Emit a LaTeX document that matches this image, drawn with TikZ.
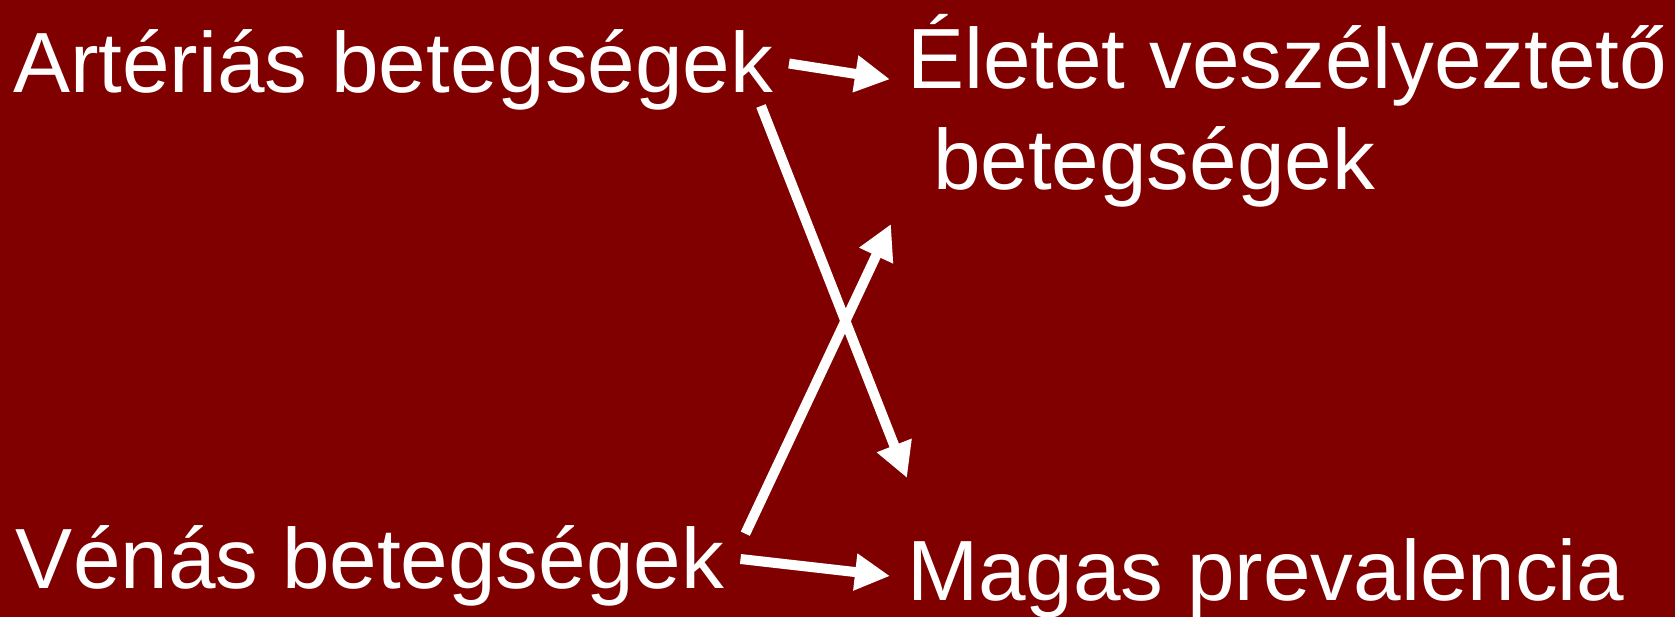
\documentclass[tikz,border=0pt]{standalone}
\usepackage{fontspec}
\setmainfont{Liberation Sans}
\usetikzlibrary{arrows.meta}
\definecolor{bgred}{HTML}{800000}
\tikzset{
  lbl/.style={anchor=base west, inner sep=0pt, outer sep=0pt, text=white, font=\fontsize{85.5}{100}\selectfont},
  arr/.style={draw=white, line width=10pt, -{Triangle[length=35pt,width=35pt]}}
}
\begin{document}
\begin{tikzpicture}[x=1pt,y=-1pt]
\fill[bgred] (0,0) rectangle (1675,617);
\useasboundingbox (0,0) rectangle (1675,617);
\node[lbl] (art) at (13,93) {Artériás betegségek};
\node[lbl] (elet1) at (907,88.5) {Életet veszélyeztető};
\node[lbl] (elet2) at (933,190) {betegségek};
\node[lbl] (ven) at (16,588.5) {Vénás betegségek};
\node[lbl] (mag) at (907,600.5) {Magas prevalencia};
\coordinate (a1s) at (789,63.5);
\coordinate (a1e) at (890,79.3);
\coordinate (a2s) at (740.5,559);
\coordinate (a2e) at (890,576);
\coordinate (a3s) at (761,106);
\coordinate (a3e) at (907,478);
\coordinate (a4s) at (745.3,533.7);
\coordinate (a4e) at (891,224);
\draw[arr] (a1s) -- (a1e);
\draw[arr] (a2s) -- (a2e);
\draw[arr] (a3s) -- (a3e);
\draw[arr] (a4s) -- (a4e);
\end{tikzpicture}
\end{document}
